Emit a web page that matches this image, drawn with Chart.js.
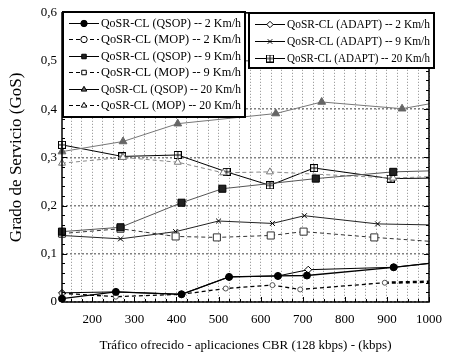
<!DOCTYPE html>
<html>
<head>
<meta charset="utf-8">
<script src="https://cdn.jsdelivr.net/npm/chart.js@4.4.1/dist/chart.umd.min.js"></script>
<style>
  html, body { margin: 0; padding: 0; background: #fff; }
</style>
</head>
<body>
<canvas id="gosChart" width="452" height="355"></canvas>
<script>
// values
const seriesLabels = [
  'QoSR-CL (QSOP) -- 2 Km/h',
  'QoSR-CL (MOP) -- 2 Km/h',
  'QoSR-CL (QSOP) -- 9 Km/h',
  'QoSR-CL (MOP) -- 9 Km/h',
  'QoSR-CL (QSOP) -- 20 Km/h',
  'QoSR-CL (MOP) -- 20 Km/h',
  'QoSR-CL (ADAPT) -- 2 Km/h',
  'QoSR-CL (ADAPT) -- 9 Km/h',
  'QoSR-CL (ADAPT) -- 20 Km/h'
];

const qsop2X = [128, 256, 412, 525, 641, 710, 916, 1000];
const qsop2Y = [0.007, 0.021, 0.016, 0.052, 0.054, 0.055, 0.072, 0.080];
const mop2X = [128, 256, 412, 517, 628, 694, 895, 1000];
const mop2Y = [0.018, 0.011, 0.016, 0.028, 0.035, 0.026, 0.040, 0.042];
const qsop9X = [128, 267, 412, 509, 731, 915, 1000];
const qsop9Y = [0.146, 0.155, 0.206, 0.235, 0.256, 0.270, 0.272];
const mop9X = [128, 267, 398, 496, 624, 702, 870, 1000];
const mop9Y = [0.142, 0.152, 0.136, 0.134, 0.138, 0.146, 0.134, 0.126];
const qsop20X = [128, 273, 403, 636, 745, 936, 1000];
const qsop20Y = [0.312, 0.333, 0.370, 0.391, 0.415, 0.401, 0.411];
const mop20X = [128, 273, 403, 511, 622, 915, 1000];
const mop20Y = [0.288, 0.300, 0.290, 0.268, 0.270, 0.257, 0.260];
const adapt2X = [128, 256, 412, 525, 641, 713, 916, 1000];
const adapt2Y = [0.019, 0.021, 0.016, 0.052, 0.054, 0.067, 0.072, 0.080];
const adapt9X = [128, 267, 398, 500, 628, 704, 878, 1000];
const adapt9Y = [0.138, 0.131, 0.146, 0.168, 0.163, 0.179, 0.162, 0.160];
const adapt20X = [128, 271, 403, 519, 622, 727, 909, 1000];
const adapt20Y = [0.326, 0.302, 0.305, 0.270, 0.242, 0.278, 0.256, 0.257];

const xMin = 128, xMax = 1000, xMinorStep = 25;
const xTickLabels = [200, 300, 400, 500, 600, 700, 800, 900, 1000];
const yMin = 0, yMax = 0.6, yStep = 0.1, yMinorStep = 0.02;

const serif = '"Liberation Serif", "DejaVu Serif", serif';

function pts(xs, ys) {
  return xs.map((x, i) => ({ x: x, y: ys[i] }));
}

// square with a cross inside, for the ADAPT 20 Km/h series
function hashedSquare() {
  const c = document.createElement('canvas');
  c.width = 8; c.height = 8;
  const g = c.getContext('2d');
  g.fillStyle = '#fff';
  g.fillRect(0, 0, 8, 8);
  g.strokeStyle = '#000';
  g.lineWidth = 1;
  g.strokeRect(0.5, 0.5, 7, 7);
  g.beginPath();
  g.moveTo(4, 1); g.lineTo(4, 7);
  g.moveTo(1, 4); g.lineTo(7, 4);
  g.stroke();
  return c;
}
const hashed = hashedSquare();

function makeSet(i, xs, ys, st) {
  const last = xs.length - 1;
  return {
    label: seriesLabels[i],
    data: pts(xs, ys),
    borderColor: st.line,
    borderWidth: st.width || 1,
    borderDash: st.dash || [],
    segment: st.thickEnd ? { borderWidth: c => c.p1DataIndex === last ? 2.5 : (st.width || 1) } : undefined,
    pointStyle: st.point,
    pointRadius: ctx => ctx.dataIndex === last ? 0 : st.r,
    pointBackgroundColor: st.fill,
    pointBorderColor: st.edge || '#000',
    pointBorderWidth: 1,
    tension: 0,
    fill: false,
    clip: false
  };
}

const datasets = [
  makeSet(0, qsop2X, qsop2Y, { line: '#000', width: 1.3, point: 'circle', r: 3.5, fill: '#000' }),
  makeSet(1, mop2X, mop2Y, { line: '#000', width: 1.3, dash: [4, 3], thickEnd: true, point: 'circle', r: 2.5, fill: '#fff', edge: '#555' }),
  makeSet(2, qsop9X, qsop9Y, { line: '#555', point: 'rect', r: 5, fill: '#222' }),
  makeSet(3, mop9X, mop9Y, { line: '#333', dash: [4, 3], point: 'rect', r: 5, fill: '#fff', edge: '#333' }),
  makeSet(4, qsop20X, qsop20Y, { line: '#777', point: 'triangle', r: 4.5, fill: '#666', edge: '#666' }),
  makeSet(5, mop20X, mop20Y, { line: '#888', dash: [4, 3], point: 'triangle', r: 4, fill: '#fff', edge: '#777' }),
  makeSet(6, adapt2X, adapt2Y, { line: '#000', point: 'rectRot', r: 3.5, fill: '#fff' }),
  makeSet(7, adapt9X, adapt9Y, { line: '#222', point: 'crossRot', r: 3.5, fill: '#000' }),
  makeSet(8, adapt20X, adapt20Y, { line: '#000', point: hashed, r: 4.5, fill: '#fff' })
];

// frame, inward tick marks and the two boxed legends
const framePlugin = {
  id: 'frame',
  afterDraw(chart, args, opts) {
    const { ctx, chartArea: a, scales } = chart;
    const xs = scales.x, ys = scales.y;
    ctx.save();
    ctx.strokeStyle = '#000';
    ctx.lineWidth = 1;
    ctx.beginPath();
    for (let v = 150; v <= xMax; v += xMinorStep) {
      const px = Math.round(xs.getPixelForValue(v)) + 0.5;
      const len = v % 100 === 0 ? 5 : 3;
      ctx.moveTo(px, a.bottom); ctx.lineTo(px, a.bottom - len);
      ctx.moveTo(px, a.top); ctx.lineTo(px, a.top + len);
    }
    for (let k = 1; k < Math.round((yMax - yMin) / yMinorStep); k++) {
      const v = yMin + k * yMinorStep;
      const py = Math.round(ys.getPixelForValue(v)) + 0.5;
      const len = k % 5 === 0 ? 5 : 3;
      ctx.moveTo(a.left, py); ctx.lineTo(a.left + len, py);
      ctx.moveTo(a.right, py); ctx.lineTo(a.right - len, py);
    }
    ctx.stroke();
    ctx.lineWidth = 1.5;
    ctx.strokeRect(a.left, a.top, a.right - a.left, a.bottom - a.top);

    ctx.font = '13px ' + serif;
    ctx.textBaseline = 'middle';
    opts.boxes.forEach(box => {
      ctx.fillStyle = '#fff';
      ctx.fillRect(box.x, box.y, box.w, box.h);
      ctx.lineWidth = 2;
      ctx.strokeStyle = '#000';
      ctx.setLineDash([]);
      ctx.strokeRect(box.x, box.y, box.w, box.h);
      box.items.forEach((di, row) => {
        const ds = chart.data.datasets[di];
        const y = Math.round(box.y + box.first + row * box.gap) + 0.5;
        const x0 = box.x + 6, x1 = box.x + 36;
        ctx.lineWidth = 1;
        ctx.strokeStyle = '#000';
        ctx.setLineDash(ds.borderDash || []);
        ctx.beginPath();
        ctx.moveTo(x0, y); ctx.lineTo(x1, y);
        ctx.stroke();
        ctx.setLineDash([]);
        ctx.fillStyle = ds.pointBackgroundColor;
        ctx.strokeStyle = '#000';
        Chart.helpers.drawPoint(ctx, {
          pointStyle: ds.pointStyle, rotation: 0,
          radius: 3.2, borderWidth: 1
        }, (x0 + x1) / 2, y);
        ctx.fillStyle = '#000';
        ctx.fillText(ds.label, x1 + 2, y, box.x + box.w - x1 - 6);
      });
    });
    ctx.restore();
  }
};

new Chart(document.getElementById('gosChart'), {
  type: 'line',
  data: { datasets: datasets },
  plugins: [framePlugin],
  options: {
    responsive: false,
    animation: false,
    events: [],
    layout: { padding: { top: 10, right: 17, left: 0, bottom: 0 } },
    plugins: {
      legend: { display: false },
      tooltip: { enabled: false },
      frame: {
        boxes: [
          { items: [0, 1, 2, 3, 4, 5], x: 63, y: 12, w: 182, h: 105, first: 11, gap: 16.4 },
          { items: [6, 7, 8], x: 249, y: 13, w: 185, h: 55, first: 11, gap: 17 }
        ]
      }
    },
    scales: {
      x: {
        type: 'linear',
        min: xMin,
        max: xMax,
        afterFit(s) { s.height = 53; },
        afterBuildTicks(s) {
          const t = [];
          for (let v = 150; v <= xMax; v += xMinorStep) t.push({ value: v });
          s.ticks = t;
        },
        grid: { color: '#8a8a8a', lineWidth: 1, drawTicks: false },
        border: { display: false, dash: [1, 2] },
        ticks: {
          autoSkip: false,
          maxRotation: 0,
          padding: 10,
          color: '#000',
          font: { family: serif, size: 13 },
          callback: v => xTickLabels.includes(v) ? String(v) : ''
        },
        title: {
          display: true,
          text: 'Tráfico ofrecido - aplicaciones CBR (128 kbps) - (kbps)',
          color: '#000',
          font: { family: serif, size: 13 },
          padding: { top: 0, bottom: 2 }
        }
      },
      y: {
        min: yMin,
        max: yMax,
        afterFit(s) { s.width = 62; },
        grid: { color: '#808080', lineWidth: 1.5, drawTicks: false },
        border: { display: false, dash: [2, 2] },
        ticks: {
          stepSize: yStep,
          padding: 5,
          color: '#000',
          font: { family: serif, size: 13 },
          callback: v => v === 0 ? '0' : v.toFixed(1).replace('.', ',')
        },
        title: {
          display: true,
          text: 'Grado de Servicio (GoS)',
          color: '#000',
          font: { family: serif, size: 17 },
          padding: { top: 6, bottom: 0 }
        }
      }
    }
  }
});
</script>
</body>
</html>
